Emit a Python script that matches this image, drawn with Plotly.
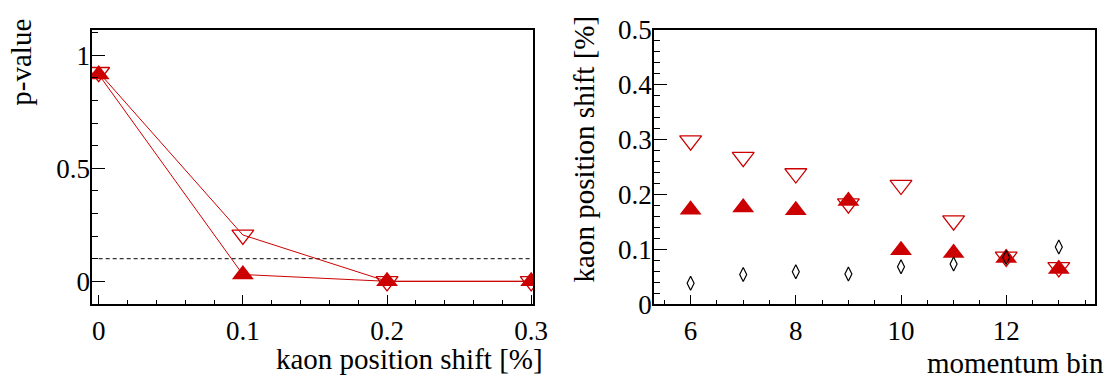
import plotly.graph_objects as go

# ---- data ----
shift = [0.0, 0.1, 0.2, 0.3]
pval_open = [0.925, 0.205, 0.0, 0.0]
pval_filled = [0.915, 0.03, 0.0, 0.0]
threshold = 0.1

mom_bin = [6, 7, 8, 9, 10, 11, 12, 13]
shift_open = [0.298, 0.268, 0.238, 0.183, 0.217, 0.152, 0.086, 0.067]
shift_filled = [0.172, 0.176, 0.171, 0.188, 0.098, 0.093, 0.084, 0.064]
shift_diamond = [0.038, 0.054, 0.059, 0.055, 0.068, 0.073, 0.085, 0.104]

RED = "#cc0000"
FONT = "Liberation Serif"
W, H = 1115, 379
MS = 19

fig = go.Figure()

# left panel
fig.add_trace(go.Scatter(x=[shift[0], shift[-1]], y=[threshold, threshold], mode="lines",
                         line=dict(color="black", width=1, dash="4px,3px"),
                         xaxis="x", yaxis="y", showlegend=False))
fig.add_trace(go.Scatter(x=shift, y=pval_open, mode="lines+markers",
                         line=dict(color=RED, width=1),
                         marker=dict(symbol="triangle-down-open", size=MS, color=RED,
                                     line=dict(width=1.3, color=RED)),
                         xaxis="x", yaxis="y", showlegend=False))
fig.add_trace(go.Scatter(x=shift, y=pval_filled, mode="lines+markers",
                         line=dict(color=RED, width=1),
                         marker=dict(symbol="triangle-up", size=MS, color=RED, line=dict(width=0)),
                         xaxis="x", yaxis="y", showlegend=False))

# right panel
fig.add_trace(go.Scatter(x=mom_bin, y=shift_open, mode="markers",
                         marker=dict(symbol="triangle-down-open", size=MS, color=RED,
                                     line=dict(width=1.3, color=RED)),
                         xaxis="x2", yaxis="y2", showlegend=False))
fig.add_trace(go.Scatter(x=mom_bin, y=shift_filled, mode="markers",
                         marker=dict(symbol="triangle-up", size=MS, color=RED, line=dict(width=0)),
                         xaxis="x2", yaxis="y2", showlegend=False))
fig.add_trace(go.Scatter(x=mom_bin, y=shift_diamond, mode="markers",
                         marker=dict(symbol="diamond-tall-open", size=10, color="black",
                                     line=dict(width=1.2, color="black")),
                         xaxis="x2", yaxis="y2", showlegend=False))

ydom = [1 - 314 / H, 1 - 16 / H]
tickfont = dict(family=FONT, size=27, color="black")


def axis_common(dtick, mdtick, ticklen, mticklen, domain, rng, anchor):
    return dict(domain=domain, range=rng, anchor=anchor, dtick=dtick, tick0=0,
                ticks="inside", ticklen=ticklen, tickwidth=1.2, tickcolor="black",
                minor=dict(dtick=mdtick, tick0=0, ticks="inside", ticklen=mticklen,
                           tickwidth=1.2, tickcolor="black"),
                showline=True, linecolor="black", linewidth=1.5, mirror=True,
                showgrid=False, zeroline=False, tickfont=tickfont)


fig.update_layout(
    width=W, height=H, margin=dict(l=0, r=0, t=0, b=0),
    paper_bgcolor="white", plot_bgcolor="white",
    xaxis=axis_common(0.1, 0.02, 9, 4, [93.3 / W, 540.5 / W], [-0.0046, 0.3014], "y"),
    yaxis=axis_common(0.5, 0.1, 13, 6.5, ydom, [-0.101, 1.113], "x"),
    xaxis2=axis_common(2, 0.5, 9, 4, [662.7 / W, 1109.5 / W], [5.3, 13.68], "y2"),
    yaxis2=axis_common(0.1, 0.02, 13, 6.5, ydom, [0, 0.5], "x2"),
)
fig.update_xaxes(ticklabelstandoff=2)
fig.update_yaxes(ticklabelstandoff=-5)

titlefont = dict(family=FONT, size=29, color="black")
fig.add_annotation(text="kaon position shift [%]", xref="paper", yref="paper",
                   x=551 / W, y=1 - 374 / H, xanchor="right", yanchor="middle",
                   showarrow=False, font=titlefont, borderpad=0)
fig.add_annotation(text="momentum bin", xref="paper", yref="paper",
                   x=1120 / W, y=1 - 378 / H, xanchor="right", yanchor="middle",
                   showarrow=False, font=titlefont, borderpad=0)
fig.add_annotation(text="p-value", xref="paper", yref="paper", textangle=-90,
                   x=21 / W, y=1 - 51 / H, xanchor="center", yanchor="middle",
                   showarrow=False, font=titlefont)
fig.add_annotation(text="kaon position shift [%]", xref="paper", yref="paper", textangle=-90,
                   x=592 / W, y=1 - 146 / H, xanchor="center", yanchor="middle",
                   showarrow=False, font=titlefont)

fig.write_html("out.html")
